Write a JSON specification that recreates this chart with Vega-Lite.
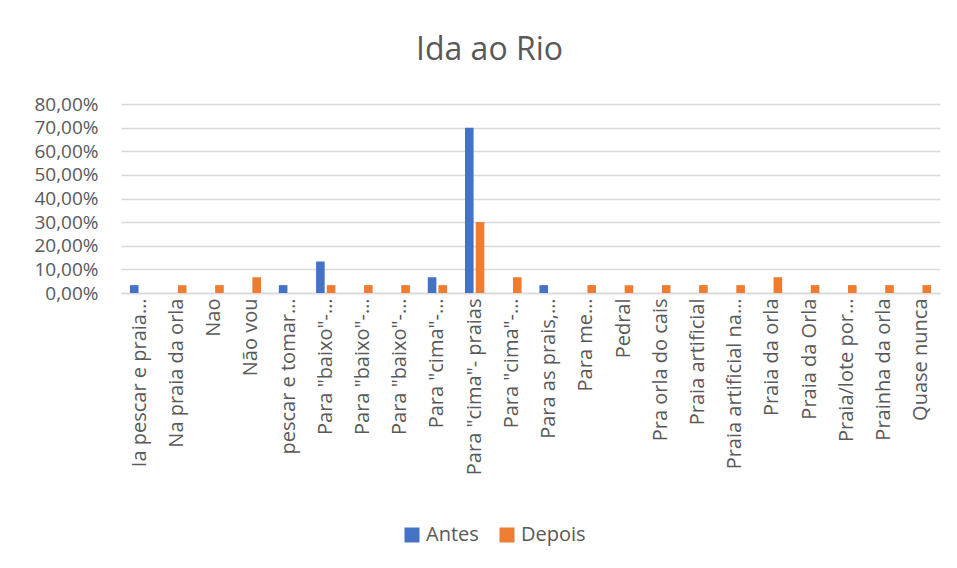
{
  "$schema": "https://vega.github.io/schema/vega-lite/v6.json",
  "autosize": "none",
  "width": 819,
  "height": 189,
  "padding": {"left": 121, "top": 104, "right": 17, "bottom": 275},
  "background": "white",
  "title": {
    "text": "Ida ao Rio",
    "anchor": "middle",
    "dx": -41,
    "offset": 28,
    "font": "Open Sans",
    "fontSize": 32,
    "fontWeight": "normal",
    "color": "#595959"
  },
  "data": {
    "values": [
      {"id": 0, "serie": "Antes", "valor": 0.0333},
      {"id": 1, "serie": "Depois", "valor": 0.0333},
      {"id": 2, "serie": "Depois", "valor": 0.0333},
      {"id": 3, "serie": "Depois", "valor": 0.0667},
      {"id": 4, "serie": "Antes", "valor": 0.0333},
      {"id": 5, "serie": "Antes", "valor": 0.1333},
      {"id": 5, "serie": "Depois", "valor": 0.0333},
      {"id": 6, "serie": "Depois", "valor": 0.0333},
      {"id": 7, "serie": "Depois", "valor": 0.0333},
      {"id": 8, "serie": "Antes", "valor": 0.0667},
      {"id": 8, "serie": "Depois", "valor": 0.0333},
      {"id": 9, "serie": "Antes", "valor": 0.70},
      {"id": 9, "serie": "Depois", "valor": 0.30},
      {"id": 10, "serie": "Depois", "valor": 0.0667},
      {"id": 11, "serie": "Antes", "valor": 0.0333},
      {"id": 12, "serie": "Depois", "valor": 0.0333},
      {"id": 13, "serie": "Depois", "valor": 0.0333},
      {"id": 14, "serie": "Depois", "valor": 0.0333},
      {"id": 15, "serie": "Depois", "valor": 0.0333},
      {"id": 16, "serie": "Depois", "valor": 0.0333},
      {"id": 17, "serie": "Depois", "valor": 0.0667},
      {"id": 18, "serie": "Depois", "valor": 0.0333},
      {"id": 19, "serie": "Depois", "valor": 0.0333},
      {"id": 20, "serie": "Depois", "valor": 0.0333},
      {"id": 21, "serie": "Depois", "valor": 0.0333}
    ]
  },
  "mark": {"type": "bar"},
  "encoding": {
    "x": {
      "field": "id",
      "type": "ordinal",
      "scale": {"domain": [0,1,2,3,4,5,6,7,8,9,10,11,12,13,14,15,16,17,18,19,20,21], "paddingInner": 0.48, "paddingOuter": 0.24},
      "axis": {
        "title": null,
        "labelAngle": -90,
        "labelAlign": "right",
        "labelBaseline": "middle",
        "labelPadding": 5,
        "labelFont": "Open Sans",
        "labelFontSize": 20,
        "labelColor": "#595959",
        "labelLimit": 0,
        "ticks": false,
        "domainColor": "#D9D9D9",
        "domainWidth": 1.3,
        "labelExpr": "['Ia pescar e praia…','Na praia da orla','Nao','Não vou','pescar e tomar…','Para \"baixo\"-…','Para \"baixo\"-…','Para \"baixo\"-…','Para \"cima\"-…','Para \"cima\"- praias','Para \"cima\"-…','Para as prais,…','Para me…','Pedral','Pra orla do cais','Praia artificial','Praia artificial na…','Praia da orla','Praia da Orla','Praia/lote por…','Prainha da orla','Quase nunca'][datum.value]"
      }
    },
    "xOffset": {
      "field": "serie",
      "type": "nominal",
      "scale": {"domain": ["Antes", "Depois"], "paddingInner": 0.2}
    },
    "y": {
      "field": "valor",
      "type": "quantitative",
      "scale": {"domain": [0, 0.8], "nice": false},
      "axis": {
        "title": null,
        "values": [0, 0.1, 0.2, 0.3, 0.4, 0.5, 0.6, 0.7, 0.8],
        "labelExpr": "replace(format(datum.value, '.2%'), '.', ',')",
        "labelFont": "Open Sans",
        "labelFontSize": 19,
        "labelColor": "#595959",
        "labelPadding": 23,
        "ticks": false,
        "domain": false,
        "grid": true,
        "gridColor": "#D9D9D9",
        "gridWidth": 1.3
      }
    },
    "color": {
      "field": "serie",
      "type": "nominal",
      "scale": {"domain": ["Antes", "Depois"], "range": ["#4472C4", "#ED7D31"]},
      "legend": {
        "title": null,
        "orient": "none",
        "direction": "horizontal",
        "legendX": 281,
        "legendY": 421,
        "symbolType": "square",
        "symbolSize": 225,
        "symbolStrokeWidth": 0,
        "labelFont": "Open Sans",
        "labelFontSize": 20,
        "labelColor": "#595959",
        "columnPadding": 18,
        "labelOffset": 4
      }
    }
  },
  "config": {
    "view": {"stroke": null}
  }
}
